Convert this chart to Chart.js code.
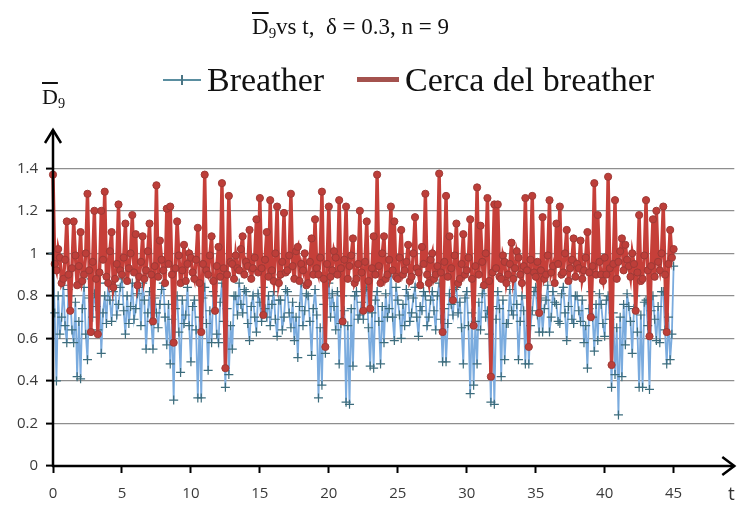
<!DOCTYPE html>
<html>
<head>
<meta charset="utf-8">
<script src="https://cdn.jsdelivr.net/npm/chart.js@4.4.0/dist/chart.umd.min.js"></script>
<style>
  body { margin: 0; background: #fff; }
  #wrap { position: relative; width: 740px; height: 510px; }
  #wrap canvas { position: absolute; left: 0; top: 0; }
  .txt { position: absolute; font-family: "Liberation Serif", "Times New Roman", serif; color: #111; white-space: nowrap; line-height: 1; }
  .ov { text-decoration: overline; }
  .txt sub { font-size: 65%; vertical-align: -0.3em; }
  .swatch { position: absolute; }
</style>
</head>
<body>
<div id="wrap">
  <canvas id="chart" width="740" height="510"></canvas>
  <div class="txt" style="left:252px;top:15px;font-size:23px;"><span class="ov">D</span><sub>9</sub>vs t,&nbsp; δ = 0.3, n = 9</div>
  <div class="txt" style="left:42px;top:86px;font-size:22px;"><span class="ov">D</span><sub>9</sub></div>
  <!-- legend -->
  <div class="swatch" style="left:163px;top:79px;width:38px;height:2px;background:#5a8ea0;"></div>
  <div class="swatch" style="left:181px;top:75px;width:2px;height:10px;background:#4a7484;"></div>
  <div class="txt" style="left:207px;top:63px;font-size:34px;">Breather</div>
  <div class="swatch" style="left:357px;top:77px;width:42px;height:5px;background:#a4524e;"></div>
  <div class="txt" style="left:405px;top:63px;font-size:34px;">Cerca del breather</div>
  <div class="txt" style="left:728px;top:484px;font-size:19px;font-family:'Open Sans',sans-serif;color:#333;">t</div>
</div>
<script>
// time step between samples (t = i * tStep)
const tStep = 0.125;

// Breather
const breather = [
  1.00,0.72,0.40,0.80,0.62,0.70,0.85,0.66,0.58,0.83,0.80,0.64,0.58,0.77,0.42,0.68,0.41,0.74,0.84,0.62,
  0.50,0.79,0.88,0.70,0.81,0.75,0.64,0.86,0.53,0.72,0.80,0.67,0.86,0.78,0.68,0.82,0.85,0.71,0.76,0.84,
  0.88,0.73,0.62,0.80,0.67,0.75,0.86,0.69,0.74,0.81,0.84,0.66,0.86,0.78,0.55,0.72,0.82,0.68,0.55,0.79,
  0.72,0.65,0.76,0.83,0.86,0.70,0.57,0.76,0.48,0.69,0.31,0.74,0.80,0.63,0.44,0.78,0.67,0.71,0.84,0.66,
  0.49,0.75,0.78,0.64,0.32,0.70,0.32,0.79,0.84,0.67,0.45,0.73,0.58,0.82,0.80,0.62,0.58,0.77,0.86,0.68,
  0.37,0.74,0.43,0.66,0.55,0.80,0.80,0.71,0.86,0.76,0.72,0.83,0.82,0.67,0.59,0.75,0.80,0.70,0.63,0.81,
  0.77,0.68,0.84,0.74,0.70,0.80,0.66,0.76,0.82,0.69,0.61,0.78,0.78,0.64,0.70,0.83,0.82,0.72,0.65,0.77,
  0.59,0.70,0.51,0.75,0.86,0.66,0.73,0.81,0.80,0.68,0.52,0.74,0.83,0.71,0.32,0.65,0.38,0.76,0.53,0.79,
  0.86,0.70,0.81,0.75,0.64,0.82,0.48,0.67,0.80,0.73,0.30,0.66,0.29,0.74,0.47,0.80,0.82,0.69,0.71,0.77,
  0.69,0.83,0.84,0.65,0.47,0.72,0.46,0.78,0.82,0.68,0.48,0.75,0.58,0.81,0.70,0.74,0.91,0.70,0.59,0.84,
  0.78,0.71,0.60,0.76,0.66,0.83,0.80,0.68,0.72,0.79,0.84,0.70,0.61,0.75,0.73,0.82,0.80,0.66,0.70,0.78,
  0.82,0.73,0.64,0.80,0.86,0.69,0.49,0.74,0.49,0.67,0.81,0.76,0.71,0.83,0.84,0.72,0.77,0.65,0.48,0.79,
  0.82,0.66,0.34,0.72,0.38,0.68,0.48,0.77,0.64,0.81,0.84,0.70,0.73,0.62,0.30,0.75,0.29,0.69,0.82,0.74,
  0.42,0.78,0.50,0.67,0.67,0.83,0.73,0.71,0.89,0.76,0.50,0.68,0.80,0.73,0.48,0.79,0.48,0.66,0.73,0.82,
  0.84,0.71,0.63,0.79,0.63,0.74,0.78,0.85,0.63,0.70,0.82,0.77,0.76,0.68,0.67,0.81,0.84,0.72,0.59,0.75,
  0.88,0.69,0.67,0.80,0.80,0.73,0.68,0.78,0.58,0.66,0.46,0.74,0.82,0.70,0.54,0.76,0.59,0.81,0.76,0.67,
  0.61,0.78,0.80,0.69,0.37,0.72,0.43,0.65,0.24,0.70,0.42,0.76,0.57,0.81,0.75,0.68,0.53,0.74,0.80,0.63,
  0.37,0.71,0.37,0.77,0.78,0.66,0.36,0.73,0.80,0.69,0.59,0.75,0.58,0.82,0.82,0.64,0.48,0.70,0.50,0.62,
  0.94
];

// Cerca del breather
const cerca = [
  1.37,0.95,0.92,1.02,0.98,0.86,0.88,0.97,1.15,0.90,0.73,0.93,1.15,0.99,0.85,0.94,1.10,0.87,0.90,1.00,
  1.28,0.92,0.63,0.96,1.20,0.88,0.62,0.91,1.20,0.97,1.29,0.89,0.86,1.01,1.10,0.84,0.88,0.95,1.23,0.92,
  0.90,0.98,1.14,0.87,0.93,1.00,1.18,0.91,1.09,0.85,0.89,0.96,1.08,0.88,0.92,1.01,1.14,0.90,0.68,0.94,
  1.32,0.89,1.06,0.97,0.92,0.86,1.21,0.95,1.22,0.90,0.58,0.93,1.15,0.99,0.86,0.92,1.04,0.87,0.95,1.00,
  0.98,0.91,0.88,0.97,1.12,0.86,0.63,0.95,1.37,0.92,0.90,0.99,1.08,0.87,0.73,0.94,1.03,0.89,1.33,0.93,
  0.46,0.90,1.27,0.96,0.95,0.88,0.99,0.93,0.92,1.02,1.08,0.90,0.96,0.94,1.11,0.88,0.93,0.98,1.16,0.91,
  1.26,0.93,0.71,0.97,1.10,0.89,1.25,0.92,0.87,1.00,1.22,0.86,0.90,0.96,1.19,0.91,0.92,0.99,1.28,0.94,
  0.88,1.01,1.03,0.87,0.95,0.92,1.00,0.85,0.86,0.96,1.07,0.90,1.16,0.93,0.90,0.98,1.29,0.88,0.56,0.95,
  1.22,0.89,0.92,1.01,0.98,0.90,1.25,0.93,0.68,0.97,1.22,0.88,0.94,0.99,1.07,0.86,0.88,0.95,1.20,0.91,
  0.73,0.96,1.15,0.87,0.74,0.93,1.08,0.90,1.37,0.94,0.86,1.00,1.08,0.88,0.90,0.97,1.22,0.92,1.15,0.89,
  0.88,0.98,1.11,0.90,0.92,0.96,1.04,0.87,0.89,1.00,1.17,0.93,0.91,0.85,1.03,0.95,1.28,0.90,0.86,0.97,
  1.00,0.88,0.90,0.94,1.375,0.91,0.63,0.96,1.27,0.89,1.08,0.93,0.78,0.99,1.14,0.86,0.88,0.95,1.09,0.90,
  0.92,0.98,1.16,0.88,0.66,0.94,1.31,0.90,1.13,0.96,0.85,1.00,1.26,0.87,0.42,0.91,1.23,0.93,1.23,0.89,
  0.88,0.99,0.96,0.86,0.90,0.95,1.05,0.88,0.93,1.01,0.98,0.90,0.86,0.94,1.26,0.92,0.56,0.97,1.27,0.91,
  0.89,0.96,0.72,0.92,1.17,0.88,0.90,0.99,1.25,0.91,0.94,0.86,1.14,0.95,1.22,0.90,0.91,1.00,1.11,0.87,
  0.93,0.97,1.07,0.89,0.95,0.93,1.06,0.88,0.92,0.98,1.10,0.91,0.70,0.94,1.33,0.90,1.18,0.96,0.90,0.87,
  0.98,0.90,1.36,0.93,0.475,0.95,1.25,0.88,0.96,1.01,1.07,0.92,1.04,0.97,0.94,0.89,1.00,0.95,0.73,0.91,
  1.18,0.87,0.88,0.99,1.25,0.92,0.61,0.94,1.16,0.89,1.20,0.96,0.92,1.00,1.22,0.90,0.63,0.95,1.11,0.98,
  1.02
];

const xTicks = [0, 5, 10, 15, 20, 25, 30, 35, 40, 45];
const yTicks = [0, 0.2, 0.4, 0.6, 0.8, 1, 1.2, 1.4];

function toPoints(arr) {
  return arr.map((v, i) => ({ x: i * tStep, y: v }));
}

// black axes with open arrow heads
const axisArrows = {
  id: 'axisArrows',
  afterDraw(chart) {
    const { ctx, chartArea: a, scales: { x, y } } = chart;
    const x0 = x.getPixelForValue(0);
    const y0 = y.getPixelForValue(0);
    ctx.save();
    ctx.strokeStyle = '#000';
    ctx.lineWidth = 2.5;
    ctx.beginPath();
    ctx.moveTo(x0, y0 + 1);
    ctx.lineTo(x0, a.top);
    ctx.moveTo(x0 - 1, y0);
    ctx.lineTo(a.right, y0);
    ctx.stroke();
    ctx.beginPath();
    ctx.moveTo(x0 - 8, a.top + 13);
    ctx.lineTo(x0, a.top);
    ctx.lineTo(x0 + 8, a.top + 13);
    ctx.moveTo(a.right - 12, y0 - 9);
    ctx.lineTo(a.right, y0);
    ctx.lineTo(a.right - 12, y0 + 9);
    ctx.stroke();
    ctx.restore();
  }
};

new Chart(document.getElementById('chart').getContext('2d'), {
  type: 'line',
  data: {
    datasets: [{
      label: 'Cerca del breather',
      data: toPoints(cerca),
      order: 0,
      borderColor: '#c63f39',
      borderWidth: 3.4,
      pointStyle: 'circle',
      pointRadius: 3.6,
      pointBackgroundColor: '#bd3e39',
      pointBorderColor: '#9e3a36',
      pointBorderWidth: 1,
      tension: 0,
      clip: false
    }, {
      label: 'Breather',
      data: toPoints(breather),
      order: 1,
      borderColor: '#7aabde',
      borderWidth: 1.8,
      pointStyle: 'cross',
      pointRadius: 4.5,
      pointBorderColor: '#3c6c7c',
      pointBorderWidth: 1.2,
      tension: 0,
      clip: false
    }]
  },
  options: {
    responsive: false,
    animation: false,
    events: [],
    layout: { padding: { left: 0, right: 2, top: 130, bottom: 0 } },
    plugins: {
      legend: { display: false },
      title: { display: false },
      tooltip: { enabled: false }
    },
    scales: {
      x: {
        type: 'linear',
        min: 0,
        max: 49.4,
        afterBuildTicks: s => { s.ticks = xTicks.map(v => ({ value: v })); },
        afterFit: s => { s.height = 44; },
        border: { display: false },
        grid: { drawOnChartArea: false, drawTicks: true, tickLength: 7, tickColor: '#000', tickWidth: 2 },
        ticks: { font: { family: 'Open Sans', size: 15 }, color: '#3a3a3a', padding: 12, maxRotation: 0 }
      },
      y: {
        type: 'linear',
        min: 0,
        max: 1.58,
        afterBuildTicks: s => { s.ticks = yTicks.map(v => ({ value: v })); },
        afterFit: s => { s.width = 53; },
        border: { display: false },
        grid: { color: '#8e8e8e', lineWidth: 1.2, tickLength: 7, tickColor: '#000', tickWidth: 2 },
        ticks: {
          font: { family: 'Open Sans', size: 15 },
          color: '#3a3a3a',
          padding: 8,
          callback: v => String(Math.round(v * 10) / 10)
        }
      }
    }
  },
  plugins: [axisArrows]
});
</script>
</body>
</html>
